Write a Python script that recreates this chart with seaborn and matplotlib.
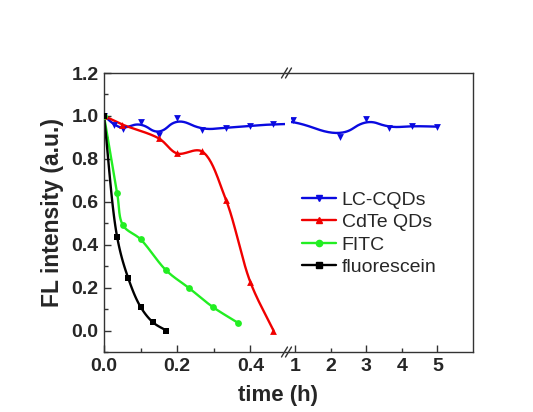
import numpy as np
import pandas as pd
import matplotlib
matplotlib.use("Agg")
import matplotlib.pyplot as plt
from matplotlib.lines import Line2D
from matplotlib.patches import Rectangle
import seaborn as sns

# ---------------- data ----------------
lc_t = [0.0, 0.027, 0.052, 0.1, 0.15, 0.2, 0.267, 0.333, 0.4, 0.463, 0.93, 2.27, 3.0, 3.65, 4.3, 5.0]
lc_v = [1.0, 0.96, 0.94, 0.97, 0.91, 0.99, 0.935, 0.945, 0.953, 0.962, 0.98, 0.90, 0.985, 0.945, 0.953, 0.95]

cd_t = [0.0, 0.05, 0.15, 0.2, 0.267, 0.333, 0.4, 0.463]
cd_v = [1.0, 0.96, 0.895, 0.825, 0.835, 0.61, 0.225, 0.0]

fitc_t = [0.0, 0.036, 0.052, 0.1, 0.17, 0.233, 0.297, 0.365]
fitc_v = [1.0, 0.64, 0.49, 0.425, 0.28, 0.197, 0.11, 0.037]

fl_t = [0.0, 0.036, 0.066, 0.1, 0.134, 0.17]
fl_v = [1.0, 0.435, 0.245, 0.11, 0.038, 0.0]

series_names = ["LC-CQDs", "CdTe QDs", "FITC", "fluorescein"]
colors = ["#0a0ae0", "#f00000", "#22ee22", "#000000"]
markers = ["v", "^", "o", "s"]

y_ticks = [0.0, 0.2, 0.4, 0.6, 0.8, 1.0, 1.2]
x1_ticks = [0.0, 0.2, 0.4]
x2_ticks = [1, 2, 3, 4, 5]


# ---------------- smoothing helpers (for drawing lines only) ----------------
def bspline_chaikin(x, y, n=5):
    P = np.column_stack([x, y]).astype(float)
    for _ in range(n):
        Q = 0.75 * P[:-1] + 0.25 * P[1:]
        R = 0.25 * P[:-1] + 0.75 * P[1:]
        new = np.empty((2 * len(Q), 2))
        new[0::2] = Q
        new[1::2] = R
        P = np.vstack([P[0], new, P[-1]])
    return P[:, 0], P[:, 1]


def catmull(x, y, sx=367.0, sy=214.6, n=25):
    P = np.column_stack([np.asarray(x) * sx, np.asarray(y) * sy]).astype(float)
    P = np.vstack([2 * P[0] - P[1], P, 2 * P[-1] - P[-2]])
    out = []
    for i in range(1, len(P) - 2):
        p0, p1, p2, p3 = P[i - 1], P[i], P[i + 1], P[i + 2]
        t0 = 0.0
        t1 = t0 + np.linalg.norm(p1 - p0) ** 0.5
        t2 = t1 + np.linalg.norm(p2 - p1) ** 0.5
        t3 = t2 + np.linalg.norm(p3 - p2) ** 0.5
        t = np.linspace(t1, t2, n)[:, None]
        A1 = (t1 - t) / (t1 - t0) * p0 + (t - t0) / (t1 - t0) * p1
        A2 = (t2 - t) / (t2 - t1) * p1 + (t - t1) / (t2 - t1) * p2
        A3 = (t3 - t) / (t3 - t2) * p2 + (t - t2) / (t3 - t2) * p3
        B1 = (t2 - t) / (t2 - t0) * A1 + (t - t0) / (t2 - t0) * A2
        B2 = (t3 - t) / (t3 - t1) * A2 + (t - t1) / (t3 - t1) * A3
        C = (t2 - t) / (t2 - t1) * B1 + (t - t1) / (t2 - t1) * B2
        out.append(C)
    C = np.vstack(out)
    return C[:, 0] / sx, C[:, 1] / sy


sns.set_theme(style="ticks")
plt.rcParams["font.family"] = ["Liberation Sans", "DejaVu Sans"]

W, H = 533, 412
fig = plt.figure(figsize=(W / 100, H / 100), dpi=100)
fig.patch.set_facecolor("white")

L, M, R, B, T = 104, 287, 473, 352, 73
ax1 = fig.add_axes([L / W, 1 - B / H, (M - L) / W, (B - T) / H])
ax2 = fig.add_axes([M / W, 1 - B / H, (R - M) / W, (B - T) / H], sharey=ax1)

raw = [(lc_t, lc_v), (cd_t, cd_v), (fitc_t, fitc_v), (fl_t, fl_v)]
for k, (name, (tt, vv)) in enumerate(zip(series_names, raw)):
    if k == 0:
        sx, sy = bspline_chaikin(tt, vv)
    else:
        sx, sy = catmull(tt, vv)
    smooth = pd.DataFrame({"t": sx, "v": sy})
    pts = pd.DataFrame({"t": tt, "v": vv})
    for ax in (ax1, ax2):
        sns.lineplot(data=smooth, x="t", y="v", ax=ax, color=colors[k], lw=1.7,
                     sort=False, estimator=None, legend=False)
        sns.scatterplot(data=pts, x="t", y="v", ax=ax, color=colors[k], marker=markers[k],
                        s=24, linewidth=0, legend=False, zorder=3)

ax1.set_xlim(0, 0.5)
ax2.set_xlim(0.775, 6.0)
ax1.set_ylim(-0.1, 1.2)

for ax in (ax1, ax2):
    ax.set_xlabel("")
    ax.set_ylabel("")
    for s in ax.spines.values():
        s.set_color("#333333")
        s.set_linewidth(1.0)
    ax.tick_params(which="both", direction="in", width=1.0, color="#333333",
                   labelsize=14, pad=4, top=False, right=False)
    ax.tick_params(which="major", length=5)
    ax.tick_params(which="minor", length=3)

ax1.spines["right"].set_visible(False)
ax2.spines["left"].set_visible(False)
ax2.tick_params(axis="y", which="both", left=False, labelleft=False)

ax1.set_yticks(y_ticks)
ax1.set_yticks(np.arange(-0.1, 1.21, 0.1), minor=True)
ax1.set_yticklabels([f"{v:.1f}" for v in y_ticks])
ax1.set_xticks(x1_ticks)
ax1.set_xticks([0.1, 0.3], minor=True)
ax1.set_xticklabels([f"{v:.1f}" for v in x1_ticks])

ax2.set_xticks([1, 3, 5])
ax2.set_xticks([2, 4], minor=True)
ax2.set_xticklabels(["1", "3", "5"])
ax2.set_xticklabels(["2", "4"], minor=True)

for ax in (ax1, ax2):
    for lab in ax.get_xticklabels(which="both") + ax.get_yticklabels():
        lab.set_fontweight("bold")

ax1.set_ylabel("FL intensity (a.u.)", fontsize=16.5, fontweight="bold", labelpad=5)
fig.text(278 / W, 1 - 385 / H, "time (h)", ha="center", va="top",
         fontsize=16, fontweight="bold")

# axis break: white gap and // marks
fig.add_artist(Rectangle(((M - 2) / W, 1 - (B - 1.5) / H), 6 / W, (B - T - 3) / H,
                         transform=fig.transFigure, facecolor="white", edgecolor="none", zorder=5))
for yy in (T, B):
    for dx in (-2.5, 1.5):
        xc = M + dx
        fig.add_artist(Line2D([(xc - 3) / W, (xc + 3) / W], [1 - (yy + 5) / H, 1 - (yy - 5) / H],
                              transform=fig.transFigure, color="#333333", lw=1.0, zorder=6))

handles = [Line2D([], [], color=c, marker=m, lw=1.7, markersize=4.5) for c, m in zip(colors, markers)]
fig.legend(handles, series_names, loc="upper left", bbox_to_anchor=(302 / W, 1 - 191 / H),
           bbox_transform=fig.transFigure, frameon=False, fontsize=14, handlelength=1.75,
           handletextpad=0.3, labelspacing=0.25, borderpad=0, borderaxespad=0)

fig.savefig("out.png", dpi=100, facecolor="white")
